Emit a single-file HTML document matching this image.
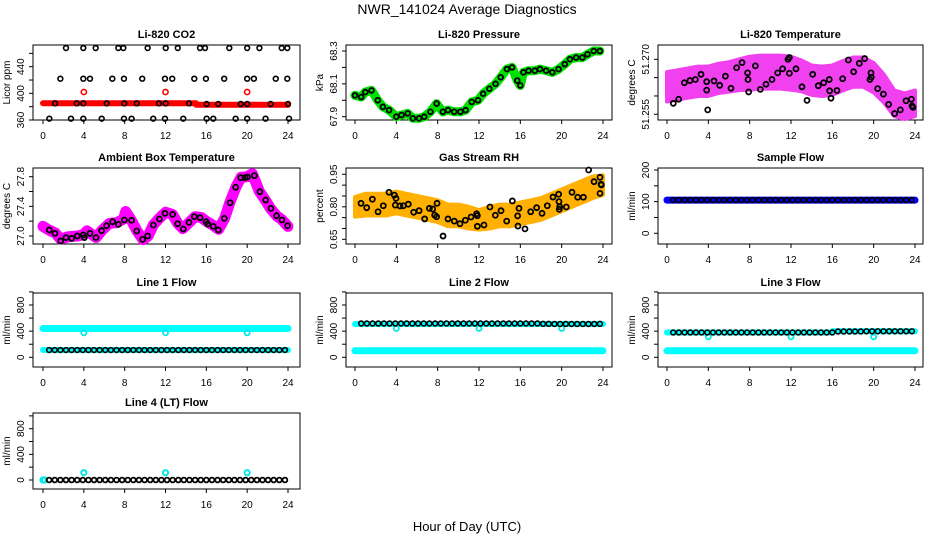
<!DOCTYPE html>
<html><head><meta charset="utf-8"><style>
html,body{margin:0;padding:0;background:#fff;}
svg{display:block;font-family:"Liberation Sans",Arial,sans-serif;}
</style></head><body>
<svg id="chart" width="936" height="540" viewBox="0 0 936 540" xmlns="http://www.w3.org/2000/svg">
<rect x="0" y="0" width="936" height="540" fill="#fff"/>
<text x="467" y="14" font-size="14" text-anchor="middle">NWR_141024  Average Diagnostics</text>
<text x="467" y="531" font-size="13" text-anchor="middle">Hour of Day (UTC)</text>
</svg>
<script>
// ---------- data ----------
const xTicks = [0,4,8,12,16,20,24];

// Li-820 CO2
const co2BandH = [0,15,15,24];
const co2BandV = [385,385,383,383];
const co2RedH = [4,12,20];
const co2RedV = [402,402,402];
const co2TopH = [2.25,3.95,5.16,7.38,7.87,10.25,12.02,13.2,15.38,15.87,18.25,20.0,21.2,23.38,23.93];
const co2TopV = [468,468,468,468,468,468,468,468,468,468,468,468,468,468,468];
const co2MidH = [1.7,3.95,4.6,6.79,7.93,9.72,11.95,12.66,14.82,15.96,17.75,20.0,20.66,22.8,23.93];
const co2MidV = [422,422,422,422,422,422,422,422,422,422,422,422,422,422,422];
const co2LowH = [1.18,3.3,3.95,6.24,7.96,9.18,11.36,12.02,14.3,16.03,17.17,19.37,20.0,22.3,24.0];
const co2LowV = [385,385,385,385,385,385,385,385,385,384,384,384,384,384,384];
const co2BotH = [0.62,2.74,3.95,5.75,7.93,8.68,10.8,11.95,13.74,16.03,16.68,18.87,20.0,21.8,24.1];
const co2BotV = [362,362,362,362,362,362,362,362,362,362,362,362,362,362,362];

// Li-820 Pressure
const presH = [0,0.6,1,1.6,2.2,2.7,3.3,4,4.5,5.1,5.6,6.2,6.7,7.3,7.9,8.5,9,9.6,10.2,10.7,11.3,11.9,12.4,13,13.6,14.1,14.7,15.2,15.7,16,16.3,16.8,17.4,17.9,18.5,19.1,19.7,20.3,20.8,21.4,22,22.5,23.1,23.7];
const presV = [68.03,68.02,68.05,68.06,68.0,67.96,67.94,67.9,67.91,67.92,67.89,67.89,67.9,67.93,67.98,67.93,67.94,67.93,67.93,67.94,67.99,68.0,68.04,68.07,68.1,68.14,68.19,68.2,68.12,68.09,68.17,68.18,68.18,68.19,68.18,68.17,68.19,68.22,68.25,68.26,68.26,68.28,68.3,68.3];

// Li-820 Temperature
const tempBandH = [0,1,2,3,4,5,6,7,8,9,10,11,12,13,14,15,16,17,18,19,20,21,22,23,24];
const tempBandC = [51.2625,51.2630,51.2635,51.2640,51.2640,51.2648,51.2652,51.2658,51.2662,51.2665,51.2665,51.2665,51.2662,51.2655,51.2643,51.2640,51.2643,51.2655,51.2665,51.2665,51.2650,51.2620,51.2580,51.2572,51.2580];
const tempBandS = [0.004,0.004,0.004,0.004,0.004,0.004,0.004,0.0042,0.0045,0.0045,0.0045,0.0045,0.0045,0.0042,0.004,0.004,0.004,0.004,0.004,0.004,0.004,0.0038,0.0035,0.0035,0.0035];
const tempH = [0.61,1.13,1.68,2.22,2.74,3.29,3.84,3.84,3.94,4.55,5.1,5.65,6.19,6.74,7.26,7.8,7.84,7.9,8.55,9.03,9.58,10.16,10.71,11.19,11.71,11.84,11.84,12.48,13.06,13.55,14.1,14.64,15.16,15.7,15.74,15.87,16.45,17.0,17.55,18.06,18.61,19.13,19.64,19.74,19.77,20.39,20.94,21.45,22.03,22.58,23.13,23.65,23.71,23.81];
const tempV = [51.2580,51.2591,51.2636,51.2642,51.2645,51.2659,51.2639,51.2616,51.2562,51.2641,51.2629,51.2654,51.2621,51.2677,51.2691,51.2663,51.2645,51.2611,51.2682,51.2618,51.2632,51.2645,51.2663,51.2674,51.2700,51.2705,51.2662,51.2674,51.2625,51.2588,51.2659,51.2628,51.2636,51.2645,51.2614,51.2594,51.2615,51.2647,51.2698,51.2666,51.2689,51.2702,51.2645,51.2663,51.2651,51.2620,51.2605,51.2577,51.2552,51.2562,51.2587,51.2591,51.2573,51.2569];

// Ambient Box Temperature
const ambBandH = [0,0.6,1.2,1.7,2.5,3.4,4,4.3,5.2,5.8,6.5,7.2,7.9,8.1,8.7,9.2,9.8,10.3,10.8,11.4,12,12.7,13.2,13.7,14.3,14.9,15.5,16,16.7,17.2,17.8,18.3,18.9,19.4,20,20.5,21.2,21.8,22.3,22.9,23.4,24];
const ambBandV = [27.13,27.08,27.04,26.96,26.99,27.0,27.02,27.07,26.98,27.08,27.17,27.18,27.23,27.33,27.2,27.07,26.95,27.0,27.15,27.24,27.32,27.29,27.17,27.1,27.18,27.26,27.25,27.2,27.14,27.09,27.24,27.45,27.66,27.79,27.8,27.84,27.6,27.48,27.37,27.27,27.22,27.13];
const ambH = [0.62,1.17,1.73,2.25,2.81,3.36,3.95,4.05,4.6,5.19,5.74,6.23,6.82,7.38,7.97,8.68,9.18,9.76,10.25,10.81,11.4,11.95,12.7,13.19,13.74,14.3,14.82,15.38,15.97,16.13,16.68,17.17,17.76,18.33,18.87,19.36,19.79,20.02,20.7,21.25,21.81,22.33,22.88,23.41,23.96];
const ambV = [27.081,27.036,26.933,26.978,26.969,27.0,27.013,26.978,27.036,26.978,27.072,27.139,27.193,27.157,27.216,27.211,27.067,26.955,27.0,27.148,27.229,27.306,27.292,27.166,27.094,27.184,27.261,27.247,27.193,27.162,27.130,27.081,27.238,27.449,27.657,27.787,27.787,27.796,27.814,27.598,27.486,27.373,27.274,27.216,27.139];

// Gas Stream RH
const rhBandH = [0,1,2,3,4,5,6,7,8,9,10,11,12,13,14,15,16,17,18,19,20,21,22,23,24];
const rhBandC = [0.80,0.81,0.81,0.81,0.82,0.81,0.80,0.79,0.78,0.76,0.76,0.75,0.74,0.75,0.76,0.76,0.77,0.78,0.79,0.81,0.83,0.85,0.87,0.89,0.90];
const rhBandS = [0.045,0.05,0.05,0.05,0.05,0.05,0.05,0.05,0.05,0.05,0.05,0.05,0.045,0.05,0.05,0.05,0.05,0.05,0.05,0.05,0.05,0.05,0.05,0.05,0.045];
const rhH = [0.58,1.13,1.68,2.23,2.74,3.29,3.81,3.9,3.97,4.35,4.68,5.16,5.68,6.2,6.74,7.2,7.52,7.71,7.9,7.94,8.52,9.0,9.61,10.16,10.68,11.23,11.77,11.84,11.84,12.48,13.06,13.58,14.13,14.68,15.23,15.74,15.77,15.87,16.45,17.0,17.58,18.1,18.61,19.16,19.71,19.74,19.81,19.77,20.45,21.0,21.55,22.1,22.61,23.13,23.71,23.71,23.81,23.84];
const rhV = [0.816,0.796,0.835,0.777,0.805,0.867,0.854,0.808,0.839,0.804,0.805,0.812,0.775,0.782,0.744,0.793,0.79,0.762,0.754,0.816,0.665,0.744,0.734,0.722,0.738,0.753,0.768,0.759,0.710,0.716,0.799,0.761,0.782,0.734,0.827,0.758,0.711,0.793,0.698,0.777,0.796,0.770,0.805,0.845,0.858,0.824,0.800,0.788,0.799,0.867,0.844,0.844,0.970,0.916,0.936,0.862,0.904,0.901];

// Flows (shared measurement times)
const flowHours = [0.6,1.15,1.7,2.25,2.8,3.35,3.9,4.45,5.0,5.55,6.1,6.65,7.2,7.75,8.3,8.85,9.4,9.95,10.5,11.05,11.6,12.15,12.7,13.25,13.8,14.35,14.9,15.45,16.0,16.55,17.1,17.65,18.2,18.75,19.3,19.85,20.4,20.95,21.5,22.05,22.6,23.15,23.7];
const sampleFlowV = [105,105,105,105,105,105,105,105,105,105,105,105,105,105,105,105,105,105,105,105,105,105,105,105,105,105,105,105,105,105,105,105,105,105,105,105,105,105,105,105,105,105,105];
const sampleBandH = [0,24];
const sampleBandV = [105,105];
const line1FlowV = [111,111,111,111,111,111,111,111,111,111,111,111,111,111,111,111,111,111,111,111,111,111,111,111,111,111,111,111,111,111,111,111,111,111,111,111,111,111,111,111,111,111,111];
const line1HighH = [0,24];
const line1HighV = [441,441];
const line1LowH = [0,24];
const line1LowV = [111,111];
const line1DipH = [4,12,20];
const line1DipV = [374,374,374];
const line2FlowV = [517,517,517,517,517,517,517,517,517,517,517,517,517,517,517,517,517,517,517,517,517,517,517,517,517,517,517,517,517,517,517,517,512,512,510,510,510,510,510,510,510,510,512];
const line2HighH = [0,24];
const line2HighV = [510,510];
const line2LowH = [0,24];
const line2LowV = [100,100];
const line2DipH = [4,12,20];
const line2DipV = [441,441,441];
const line3FlowV = [380,380,380,380,380,380,380,380,380,380,380,380,380,380,380,380,380,380,380,380,380,380,380,380,380,380,380,380,380,395,395,395,395,395,398,398,398,398,398,398,398,398,398];
const line3HighH = [0,16,16,24];
const line3HighV = [380,380,398,398];
const line3LowH = [0,24];
const line3LowV = [100,100];
const line3DipH = [4,12,20];
const line3DipV = [313,313,313];
const line4FlowV = [0,0,0,0,0,0,0,0,0,0,0,0,0,0,0,0,0,0,0,0,0,0,0,0,0,0,0,0,0,0,0,0,0,0,0,0,0,0,0,0,0,0,0];
const line4CyanH = [0,0.15,4,12,20];
const line4CyanV = [0,0,114,114,114];

// ---------- drawing ----------
const NS = "http://www.w3.org/2000/svg";
const svg = document.getElementById("chart");
function el(tag, attrs, parent){ const e=document.createElementNS(NS,tag); for(const k in attrs) e.setAttribute(k,attrs[k]); (parent||svg).appendChild(e); return e; }

function makePanel(p){
  const g = el("g",{});
  
  
  const sx = h => p.x0 + (h/24)*(p.x24 - p.x0);
  const sy = v => p.py1 + (v - p.v1)*(p.py2 - p.py1)/(p.v2 - p.v1);
  const box = el("rect",{x:p.bx0,y:p.by0,width:p.bx1-p.bx0,height:p.by1-p.by0,fill:"none",stroke:"#000","stroke-width":1},g);
  
  
  const t = el("text",{x:(p.bx0+p.bx1)/2,y:p.by0-7,"font-size":11,"font-weight":"bold","text-anchor":"middle"},g);
  t.textContent = p.title;
  
  
  // x axis
  const xa = el("g",{},g);
  
  
  el("line",{x1:sx(0),x2:sx(24),y1:p.by1,y2:p.by1,stroke:"#000"},xa);
  xTicks.forEach(h=>{
    el("line",{x1:sx(h),x2:sx(h),y1:p.by1,y2:p.by1+4,stroke:"#000"},xa);
    const tl = el("text",{x:sx(h),y:p.by1+19,"font-size":10,"text-anchor":"middle"},xa);
    tl.textContent = h;
    
    
  });
  // y axis
  const ya = el("g",{},g);
  
  
  const yt0 = p.yTicks[0], yt1 = p.yTicks[p.yTicks.length-1];
  el("line",{x1:p.bx0,x2:p.bx0,y1:sy(yt0),y2:sy(yt1),stroke:"#000"},ya);
  p.yTicks.forEach(v=>{ el("line",{x1:p.bx0-4,x2:p.bx0,y1:sy(v),y2:sy(v),stroke:"#000"},ya); });
  p.yLabels.forEach(v=>{
    const xx = p.bx0-9, yy = sy(v);
    const tl = el("text",{x:xx,y:yy,"font-size":10,"text-anchor":"middle",transform:`rotate(-90 ${xx} ${yy})`},ya);
    tl.textContent = v;
    
    
  });
  const xx = p.bx0-23, yy=(p.by0+p.by1)/2;
  const yl = el("text",{x:xx,y:yy,"font-size":10,"text-anchor":"middle",transform:`rotate(-90 ${xx} ${yy})`},g);
  yl.textContent = p.ylab;
  
  
  const marks = el("g",{},g);
  
  
  return {g:marks,sx,sy};
}
function pts(P,H,V,color,r,sw,name){
  const gg = el("g",{},P.g);
  
  
  H.forEach((h,i)=>{
    const c = el("circle",{cx:P.sx(h),cy:P.sy(V[i]),r:r||2.4,fill:"none",stroke:color,"stroke-width":sw||1.6},gg);
    
    
  });
}
function band(P,H,V,color,w,name){
  const d = H.map((h,i)=>(i?"L":"M")+P.sx(h).toFixed(1)+","+P.sy(V[i]).toFixed(1)).join("");
  const pa = el("path",{d,fill:"none",stroke:color,"stroke-width":w,"stroke-linecap":"round","stroke-linejoin":"round"},P.g);
  
  
}
function cloud(P,H,C,S,color,name){
  const up = H.map((h,i)=>P.sx(h).toFixed(1)+","+P.sy(C[i]+S[i]).toFixed(1));
  const dn = H.map((h,i)=>P.sx(h).toFixed(1)+","+P.sy(C[i]-S[i]).toFixed(1)).reverse();
  const pg = el("polygon",{points:up.concat(dn).join(" "),fill:color,stroke:color,"stroke-width":4,"stroke-linejoin":"round"},P.g);
  
  
}

const C1={bx0:33,bx1:300,x0:43,x24:288}, C2={bx0:346,bx1:612,x0:355,x24:603}, C3={bx0:658,bx1:923,x0:667,x24:915};
const R1={by0:45,by1:120}, R2={by0:168,by1:244}, R3={by0:293,by1:367}, R4={by0:413,by1:489};
const flowTicks=[0,200,400,600,800,1000], flowLabels=[0,400,800];

// Panel 1
let P = makePanel({...C1,...R1,name:"co2-panel",title:"Li-820 CO2",ylab:"Licor ppm",v1:360,py1:120,v2:440,py2:66.7,yTicks:[360,380,400,420,440,460],yLabels:[360,400,440]});
band(P,co2BandH,co2BandV,"#ff0000",6,"co2-red-band");
pts(P,co2RedH,co2RedV,"#ff0000",2.6,1.6,"co2-red-points");
pts(P,co2TopH,co2TopV,"#000",2.4,1.6,"co2-points-468");
pts(P,co2MidH,co2MidV,"#000",2.4,1.6,"co2-points-422");
pts(P,co2LowH,co2LowV,"#000",2.4,1.6,"co2-points-385");
pts(P,co2BotH,co2BotV,"#000",2.4,1.6,"co2-points-362");

// Panel 2
P = makePanel({...C2,...R1,name:"pressure-panel",title:"Li-820 Pressure",ylab:"kPa",v1:67.9,py1:116.7,v2:68.3,py2:51,yTicks:[67.9,68.0,68.1,68.2,68.3],yLabels:["67.9","68.1","68.3"].map(Number)});
band(P,presH,presV,"#00e000",9,"pressure-green-band");
pts(P,presH,presV,"#000",2.4,1.8,"pressure-points");

// Panel 3
P = makePanel({...C3,...R1,name:"temperature-panel",title:"Li-820 Temperature",ylab:"degrees C",v1:51.255,py1:114.3,v2:51.270,py2:59.3,yTicks:[51.255,51.260,51.265,51.270],yLabels:[51.255,51.270]});
cloud(P,tempBandH,tempBandC,tempBandS,"#f040f0","temperature-magenta-cloud");
pts(P,tempH,tempV,"#000",2.5,1.8,"temperature-points");
// fix label formatting
[...P.g.parentNode.querySelectorAll('text')].forEach(t=>{ if(t.textContent==="51.27") t.textContent="51.270"; });

// Panel 4
P = makePanel({...C1,...R2,name:"ambient-temperature-panel",title:"Ambient Box Temperature",ylab:"degrees C",v1:27.0,py1:236,v2:27.8,py2:176.7,yTicks:[27.0,27.2,27.4,27.6,27.8],yLabels:[27.0,27.4,27.8]});
band(P,ambBandH,ambBandV,"#ff00ff",11,"ambient-magenta-band");
pts(P,ambH,ambV,"#000",2.5,1.8,"ambient-points");
[...P.g.parentNode.querySelectorAll('text')].forEach(t=>{ if(t.textContent==="27") t.textContent="27.0"; });

// Panel 5
P = makePanel({...C2,...R2,name:"rh-panel",title:"Gas Stream RH",ylab:"percent",v1:0.65,py1:239.3,v2:0.95,py2:174.3,yTicks:[0.65,0.70,0.75,0.80,0.85,0.90,0.95],yLabels:[0.65,0.80,0.95]});
cloud(P,rhBandH,rhBandC,rhBandS,"#ffb000","rh-orange-cloud");
pts(P,rhH,rhV,"#000",2.5,1.8,"rh-points");
[...P.g.parentNode.querySelectorAll('text')].forEach(t=>{ if(t.textContent==="0.8") t.textContent="0.80"; });

// Panel 6
P = makePanel({...C3,...R2,name:"sample-flow-panel",title:"Sample Flow",ylab:"ml/min",v1:0,py1:233.3,v2:200,py2:170,yTicks:[0,50,100,150,200],yLabels:[0,100,200]});
band(P,sampleBandH,sampleBandV,"#0000ff",7,"sample-flow-blue-band");
pts(P,flowHours,sampleFlowV,"#000",2.4,1.6,"sample-flow-points");

// Panel 7
P = makePanel({...C1,...R3,name:"line1-flow-panel",title:"Line 1 Flow",ylab:"ml/min",v1:0,py1:357.3,v2:800,py2:305,yTicks:flowTicks,yLabels:flowLabels});
band(P,line1HighH,line1HighV,"#00ffff",7,"line1-cyan-high");
band(P,line1LowH,line1LowV,"#00ffff",6,"line1-cyan-low");
pts(P,line1DipH,line1DipV,"#00e8e8",2.5,1.8,"line1-cyan-dips");
pts(P,flowHours,line1FlowV,"#000",2.4,1.6,"line1-points");

// Panel 8
P = makePanel({...C2,...R3,name:"line2-flow-panel",title:"Line 2 Flow",ylab:"ml/min",v1:0,py1:357.3,v2:800,py2:305,yTicks:flowTicks,yLabels:flowLabels});
band(P,line2HighH,line2HighV,"#00ffff",6,"line2-cyan-high");
band(P,line2LowH,line2LowV,"#00ffff",7,"line2-cyan-low");
pts(P,line2DipH,line2DipV,"#00e8e8",2.5,1.8,"line2-cyan-dips");
pts(P,flowHours,line2FlowV,"#000",2.4,1.6,"line2-points");

// Panel 9
P = makePanel({...C3,...R3,name:"line3-flow-panel",title:"Line 3 Flow",ylab:"ml/min",v1:0,py1:357.3,v2:800,py2:305,yTicks:flowTicks,yLabels:flowLabels});
band(P,line3HighH,line3HighV,"#00ffff",6,"line3-cyan-high");
band(P,line3LowH,line3LowV,"#00ffff",7,"line3-cyan-low");
pts(P,line3DipH,line3DipV,"#00e8e8",2.5,1.8,"line3-cyan-dips");
pts(P,flowHours,line3FlowV,"#000",2.4,1.6,"line3-points");

// Panel 10
P = makePanel({...C1,...R4,name:"line4-flow-panel",title:"Line 4 (LT) Flow",ylab:"ml/min",v1:0,py1:480,v2:800,py2:428.7,yTicks:flowTicks,yLabels:flowLabels});
pts(P,line4CyanH,line4CyanV,"#00e8e8",2.6,2,"line4-cyan-points");
pts(P,flowHours,line4FlowV,"#000",2.4,1.8,"line4-points");
</script>
</body></html>
